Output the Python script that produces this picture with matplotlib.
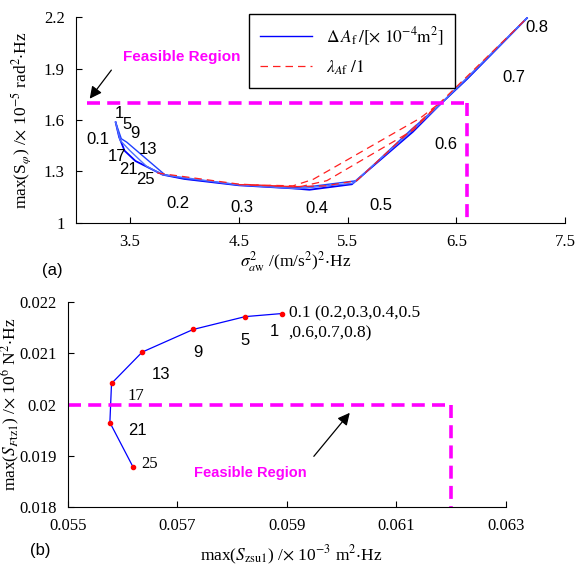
import numpy as np
import matplotlib.pyplot as plt
from matplotlib.lines import Line2D

plt.rcParams['font.family'] = 'Liberation Serif'
plt.rcParams['mathtext.fontset'] = 'stix'
plt.rcParams['xtick.direction'] = 'in'
plt.rcParams['ytick.direction'] = 'in'

# (a) sigma_aw^2 vs max(S_phi), blue = dAf sweep, red = lambda_Af sweep
blue_x1 = [3.368, 3.40, 3.45, 3.55, 3.80, 4.00, 4.50, 5.00, 5.15, 5.54, 6.10, 6.35, 6.60, 7.15]
blue_y1 = [1.586, 1.50, 1.42, 1.36, 1.28, 1.255, 1.218, 1.200, 1.192, 1.224, 1.53, 1.69, 1.84, 2.195]
blue_x2 = [3.368, 3.42, 3.47, 3.82, 4.00, 4.50, 5.00, 5.15, 5.585, 6.08, 6.35, 6.60, 7.15]
blue_y2 = [1.586, 1.49, 1.47, 1.28, 1.258, 1.222, 1.205, 1.210, 1.245, 1.54, 1.69, 1.84, 2.195]
blue_x3 = [3.368, 3.41, 3.50, 3.65, 3.80, 4.50, 5.05, 5.55, 6.10, 6.35, 7.15]
blue_y3 = [1.586, 1.48, 1.42, 1.33, 1.28, 1.220, 1.198, 1.230, 1.54, 1.69, 2.195]

red_x1 = [3.75, 4.50, 5.00, 5.30, 5.585, 6.10, 6.35, 7.15]
red_y1 = [1.29, 1.225, 1.210, 1.215, 1.245, 1.55, 1.70, 2.195]
red_x2 = [4.50, 5.00, 5.185, 6.167, 6.35]
red_y2 = [1.222, 1.215, 1.253, 1.61, 1.70]
red_x3 = [4.60, 5.05, 5.31, 6.105, 6.35]
red_y3 = [1.220, 1.208, 1.245, 1.541, 1.70]

daf_labels = ['0.1', '0.2', '0.3', '0.4', '0.5', '0.6', '0.7', '0.8']
daf_lx = [3.20, 3.94, 4.53, 5.22, 5.81, 6.40, 7.03, 7.24]
daf_ly = [1.483, 1.109, 1.086, 1.080, 1.100, 1.454, 1.850, 2.140]
lam_labels_a = ['1', '5', '9', '13', '17', '21', '25']
lam_ax = [3.40, 3.47, 3.546, 3.668, 3.38, 3.485, 3.64]
lam_ay = [1.639, 1.571, 1.522, 1.429, 1.386, 1.308, 1.250]

# (b) max(S_zsu1) vs max(S_Ftz1) for lambda = 1..25
szsu = [0.05891, 0.05824, 0.05729, 0.05636, 0.05580, 0.05577, 0.05619]
sftz = [0.02177, 0.02171, 0.02146, 0.02102, 0.02041, 0.01965, 0.01879]
lam_labels_b = ['1', '5', '9', '13', '17', '21', '25']
lam_bx = [0.05877, 0.05824, 0.05737, 0.05670, 0.05624, 0.05628, 0.05650]
lam_by = [0.02142, 0.02125, 0.02102, 0.02059, 0.02017, 0.01950, 0.01884]
serif_b = ['17', '25']

fig = plt.figure(figsize=(5.84, 5.65), dpi=100)
mag = '#ff00ff'

ax = fig.add_axes([0.1295, 0.606, 0.838, 0.3635])
ax.plot(blue_x1, blue_y1, color='#0000ff', lw=1.3)
ax.plot(blue_x2, blue_y2, color='#2040ff', lw=1.0)
ax.plot(blue_x3, blue_y3, color='#5070ff', lw=1.0)
for xs, ys in [(red_x1, red_y1), (red_x2, red_y2), (red_x3, red_y3)]:
    ax.plot(xs, ys, color='#ff2020', lw=0.9, dashes=(6, 4))
ax.plot([3.1, 6.6], [1.7, 1.7], color=mag, lw=2.6, dashes=(3.6, 2.0))
ax.plot([6.6, 6.6], [1.7, 1.0], color=mag, lw=2.6, dashes=(3.6, 2.0))
ax.annotate('', xy=(3.114, 1.711), xytext=(3.344, 1.904),
            arrowprops=dict(arrowstyle='-|>', color='k', lw=0.9, mutation_scale=18))
ax.text(3.978, 1.968, 'Feasible Region', color=mag, fontsize=11, fontweight='bold',
        family='Liberation Sans', ha='center', va='center')
for t, x, y in zip(daf_labels, daf_lx, daf_ly):
    ax.text(x, y, t, fontsize=12, family='Liberation Sans', ha='center', va='center')
for t, x, y in zip(lam_labels_a, lam_ax, lam_ay):
    ax.text(x, y, t, fontsize=12, family='Liberation Sans', ha='center', va='center')
ax.set_xlim(3, 7.5)
ax.set_ylim(1, 2.2)
ax.set_xticks([3.5, 4.5, 5.5, 6.5, 7.5])
ax.set_yticks([1, 1.3, 1.6, 1.9, 2.2])
ax.set_yticklabels(['1', '1.3', '1.6', '1.9', '2.2'])
ax.spines['top'].set_visible(False)
ax.spines['right'].set_visible(False)
ax.tick_params(labelsize=12, length=4, pad=8)
ax.set_xlabel(r'$\sigma^2_{a\mathrm{w}}$ /(m/s$^2$)$^2$$\cdot$Hz', fontsize=12.5)
ax.set_ylabel(r'max(S$_{\varphi}$) /$\times$ 10$^{-5}$ rad$^2$$\cdot$Hz', fontsize=12.5)
ax.xaxis.set_label_coords(0.45, -0.13)
ax.yaxis.set_label_coords(-0.087, 0.5)
handles = [Line2D([], [], color='#0000ff', lw=1.0),
           Line2D([], [], color='#ff2020', lw=0.9, dashes=(6, 4))]
leg = ax.legend(handles, [r'$\Delta\, A_{\mathrm{f}}\,/[\times\ 10^{-4}\mathrm{m}^2]$',
                          r'$\lambda_{A\mathrm{f}}\ /1$'],
                loc='upper left', bbox_to_anchor=(0.354, 1.015), borderaxespad=0,
                fontsize=12.5, fancybox=False, framealpha=1, edgecolor='k',
                handlelength=3.0, borderpad=0.65, labelspacing=0.6)
leg.get_frame().set_linewidth(1.0)
fig.text(52 / 584, 1 - 270 / 565, '(a)', fontsize=12, family='Liberation Sans',
         ha='center', va='center')

bx = fig.add_axes([0.1159, 0.1021, 0.7506, 0.3639])
bx.plot(szsu, sftz, color='#0000ff', lw=0.9, marker='o', ms=3, mfc='#ff0000', mec='#ff0000')
bx.plot([0.055, 0.062], [0.02, 0.02], color=mag, lw=2.6, dashes=(3.6, 2.0), clip_on=False)
bx.plot([0.062, 0.062], [0.02, 0.018], color=mag, lw=2.6, dashes=(3.6, 2.0))
bx.annotate('', xy=(0.06018, 0.01988), xytext=(0.05946, 0.01895),
            arrowprops=dict(arrowstyle='-|>', color='k', lw=0.9, mutation_scale=18))
bx.text(0.05833, 0.01866, 'Feasible Region', color=mag, fontsize=10.5, fontweight='bold',
        family='Liberation Sans', ha='center', va='center')
for t, x, y in zip(lam_labels_b, lam_bx, lam_by):
    fam = 'Liberation Serif' if t in serif_b else 'Liberation Sans'
    bx.text(x, y, t, fontsize=12, family=fam, ha='center', va='center')
bx.text(0.05903, 0.02177, '0.1 (0.2,0.3,0.4,0.5', fontsize=12.5, ha='left', va='center')
bx.text(0.05903, 0.02139, ',0.6,0.7,0.8)', fontsize=12.5, ha='left', va='center')
bx.set_xlim(0.055, 0.063)
bx.set_ylim(0.018, 0.022)
bx.set_xticks([0.055, 0.057, 0.059, 0.061, 0.063])
bx.set_xticklabels(['0.055', '0.057', '0.059', '0.061', '0.063'])
bx.set_yticks([0.018, 0.019, 0.02, 0.021, 0.022])
bx.set_yticklabels(['0.018', '0.019', '0.02', '0.021', '0.022'])
bx.spines['top'].set_visible(False)
bx.spines['right'].set_visible(False)
bx.tick_params(labelsize=12, length=4, pad=8)
bx.set_xlabel(r'max($S_{\mathrm{zsu1}}$) /$\times$ 10$^{-3}$ m$^2$$\cdot$Hz', fontsize=12.5)
bx.set_ylabel(r'max($S_{F\mathrm{tz1}}$) /$\times$ 10$^6$ N$^2$$\cdot$Hz', fontsize=12.5)
bx.xaxis.set_label_coords(0.51, -0.175)
bx.yaxis.set_label_coords(-0.105, 0.5)
fig.text(40 / 584, 1 - 550 / 565, '(b)', fontsize=12, family='Liberation Sans',
         ha='center', va='center')

fig.savefig('out.png', dpi=100)
